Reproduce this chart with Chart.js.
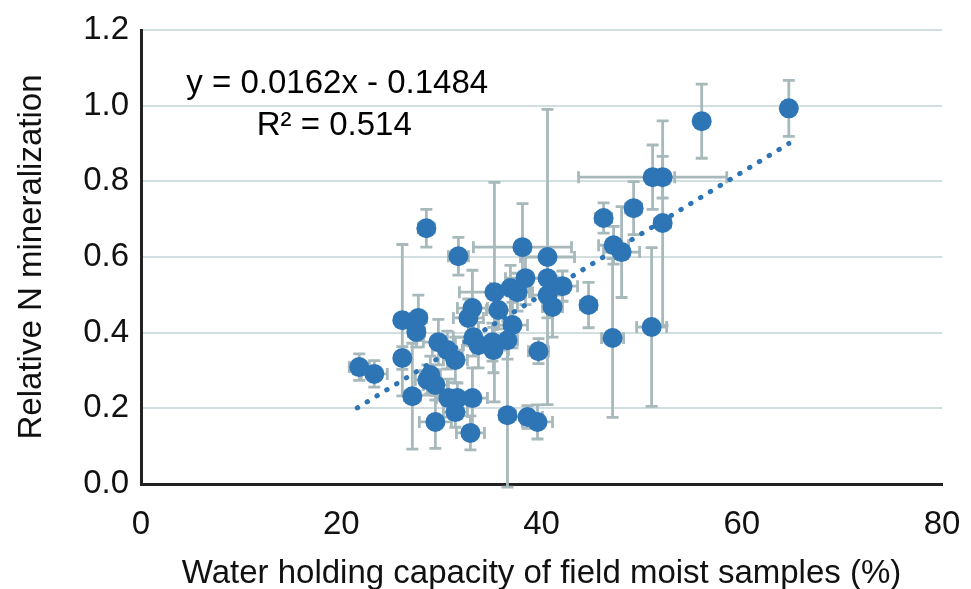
<!DOCTYPE html>
<html>
<head>
<meta charset="utf-8">
<script src="https://cdn.jsdelivr.net/npm/chart.js@4.4.1/dist/chart.umd.min.js"></script>
<style>
  html, body { margin: 0; padding: 0; background: #fff; }
  #wrap { width: 971px; height: 589px; }
</style>
</head>
<body>
<div id="wrap"><canvas id="grafico" width="971" height="589"></canvas></div>
<script>
// valores
var whc = [21.8, 23.3, 26.1, 26.1, 27.7, 27.5, 28.5, 27.1, 28.6, 29.4,
           28.9, 29.4, 29.7, 30.6, 31.4, 30.7, 31.6, 31.4, 33.1, 32.9,
           31.7, 33.1, 32.7, 33.2, 33.7, 35.1, 35.2, 35.3, 35.7, 36.9,
           37.6, 37.1, 36.6, 38.1, 38.4, 36.6, 38.6, 39.6, 39.7, 40.6,
           40.6, 40.6, 41.1, 42.1, 44.7, 46.2, 47.1, 47.2, 48.0, 49.2,
           51.0, 51.1, 52.1, 52.1, 56.0, 64.7];
var relN = [0.309, 0.291, 0.433, 0.333, 0.439, 0.402, 0.676, 0.232, 0.275, 0.262,
            0.288, 0.164, 0.375, 0.354, 0.328, 0.227, 0.227, 0.190, 0.227, 0.135,
            0.602, 0.465, 0.439, 0.388, 0.367, 0.375, 0.354, 0.507, 0.460, 0.518,
            0.507, 0.420, 0.380, 0.626, 0.544, 0.182, 0.177, 0.164, 0.351, 0.600,
            0.544, 0.499, 0.468, 0.523, 0.473, 0.703, 0.386, 0.631, 0.613, 0.729,
            0.415, 0.811, 0.811, 0.690, 0.959, 0.993];
var errX = [1.0, 1.3, 0.5, 0.5, 0.8, 0.8, 0.8, 0.8, 1.2, 1.2,
            1.0, 1.6, 1.5, 1.5, 1.2, 1.2, 1.0, 1.2, 1.5, 1.4,
            1.0, 1.5, 1.5, 2.0, 1.5, 1.2, 1.5, 3.5, 1.2, 2.0,
            1.5, 1.5, 1.0, 4.9, 2.0, 0.8, 1.5, 1.5, 1.0, 2.7,
            1.5, 1.5, 1.0, 1.5, 0.8, 0.8, 1.1, 1.5, 1.8, 0.8,
            1.5, 7.4, 1.2, 0.8, 0, 0];
var errY = [0.035, 0.035, 0.20, 0.03, 0.06, 0.04, 0.05, 0.14, 0.04, 0.04,
            0.05, 0.07, 0.06, 0.05, 0.06, 0.05, 0.04, 0.04, 0.08, 0.045,
            0.05, 0.10, 0.05, 0.05, 0.06, 0.05, 0.06, 0.29, 0.05, 0.06,
            0.05, 0.06, 0.05, 0.115, 0.07, 0.19, 0.03, 0.045, 0.033, 0.39,
            0.05, 0.06, 0.08, 0.04, 0.06, 0.04, 0.21, 0.05, 0.12, 0.07,
            0.21, 0.085, 0.055, 0.27, 0.098, 0.074];

// linea de tendencia (extremos leidos)
var trendX = [21.6, 64.7];
var trendY = [0.201, 0.900];

var yTicks = [0, 0.2, 0.4, 0.6, 0.8, 1.0, 1.2];
var xTicks = [0, 20, 40, 60, 80];

var ecuacion = ['y = 0.0162x - 0.1484', 'R\u00b2 = 0.514'];
var ecuacionPos = [[19.6, 1.057], [19.3, 0.947]];

var fuente = "'Liberation Sans', Arial, sans-serif";
var azul = '#2E75B6';
var gris = '#A8B9BC';

var puntos = whc.map(function (x, i) {
  return { x: x, y: relN[i] };
});

var barrasError = {
  id: 'barrasError',
  beforeDatasetsDraw: function (chart) {
    var ctx = chart.ctx;
    var sx = chart.scales.x;
    var sy = chart.scales.y;
    var cap = 6;
    ctx.save();
    ctx.strokeStyle = gris;
    ctx.lineWidth = 2.8;
    whc.forEach(function (x, i) {
      var y = relN[i];
      var px = sx.getPixelForValue(x);
      var py = sy.getPixelForValue(y);
      if (errY[i] > 0) {
        var y1 = sy.getPixelForValue(y - errY[i]);
        var y2 = sy.getPixelForValue(y + errY[i]);
        ctx.beginPath();
        ctx.moveTo(px, y1); ctx.lineTo(px, y2);
        ctx.moveTo(px - cap, y1); ctx.lineTo(px + cap, y1);
        ctx.moveTo(px - cap, y2); ctx.lineTo(px + cap, y2);
        ctx.stroke();
      }
      if (errX[i] > 0) {
        var x1 = sx.getPixelForValue(x - errX[i]);
        var x2 = sx.getPixelForValue(x + errX[i]);
        ctx.beginPath();
        ctx.moveTo(x1, py); ctx.lineTo(x2, py);
        ctx.moveTo(x1, py - cap); ctx.lineTo(x1, py + cap);
        ctx.moveTo(x2, py - cap); ctx.lineTo(x2, py + cap);
        ctx.stroke();
      }
    });
    ctx.restore();
  },
  afterDatasetsDraw: function (chart) {
    var ctx = chart.ctx;
    ctx.save();
    ctx.fillStyle = '#000';
    ctx.font = '33px ' + fuente;
    ctx.textAlign = 'center';
    ctx.textBaseline = 'middle';
    ecuacion.forEach(function (t, i) {
      ctx.fillText(t, chart.scales.x.getPixelForValue(ecuacionPos[i][0]),
        chart.scales.y.getPixelForValue(ecuacionPos[i][1]));
    });
    ctx.restore();
  }
};

function sinRelleno(scale) {
  scale.paddingLeft = 0;
  scale.paddingRight = 0;
  scale.paddingTop = 0;
  scale.paddingBottom = 0;
}

new Chart(document.getElementById('grafico'), {
  type: 'scatter',
  data: {
    datasets: [
      {
        label: 'Relative N mineralization',
        data: puntos,
        backgroundColor: azul,
        borderColor: azul,
        pointRadius: 10,
        pointHoverRadius: 10,
        borderWidth: 0
      },
      {
        type: 'line',
        label: 'Trend',
        data: trendX.map(function (x, i) { return { x: x, y: trendY[i] }; }),
        borderColor: azul,
        borderWidth: 5,
        borderDash: [0.5, 11],
        borderCapStyle: 'round',
        pointRadius: 0,
        fill: false
      }
    ]
  },
  plugins: [barrasError],
  options: {
    responsive: false,
    animation: false,
    layout: { padding: { left: 0, right: 29, top: 30, bottom: 0 } },
    plugins: {
      legend: { display: false },
      tooltip: { enabled: false }
    },
    scales: {
      x: {
        type: 'linear',
        min: 0,
        max: 80,
        afterBuildTicks: function (scale) {
          scale.ticks = xTicks.map(function (v) { return { value: v }; });
        },
        afterFit: function (scale) { scale.height = 105; sinRelleno(scale); },
        grid: { display: false, drawTicks: false },
        border: { display: true, color: '#222', width: 3 },
        ticks: {
          color: '#111',
          padding: 21,
          font: { family: fuente, size: 33 }
        },
        title: {
          display: true,
          text: 'Water holding capacity of field moist samples (%)',
          color: '#111',
          padding: { top: 0, bottom: -1 },
          font: { family: fuente, size: 33, lineHeight: 1.0 }
        }
      },
      y: {
        type: 'linear',
        min: 0,
        max: 1.2,
        afterBuildTicks: function (scale) {
          scale.ticks = yTicks.map(function (v) { return { value: v }; });
        },
        afterFit: function (scale) { scale.width = 141; sinRelleno(scale); },
        grid: { color: '#D3DEE0', lineWidth: 2, drawTicks: false },
        border: { display: true, color: '#222', width: 3 },
        ticks: {
          color: '#111',
          padding: 12,
          font: { family: fuente, size: 33 },
          callback: function (v) { return v.toFixed(1); }
        },
        title: {
          display: true,
          text: 'Relative N mineralization',
          color: '#111',
          padding: { top: 12, bottom: 0 },
          font: { family: fuente, size: 33 }
        }
      }
    }
  }
});
</script>
</body>
</html>
